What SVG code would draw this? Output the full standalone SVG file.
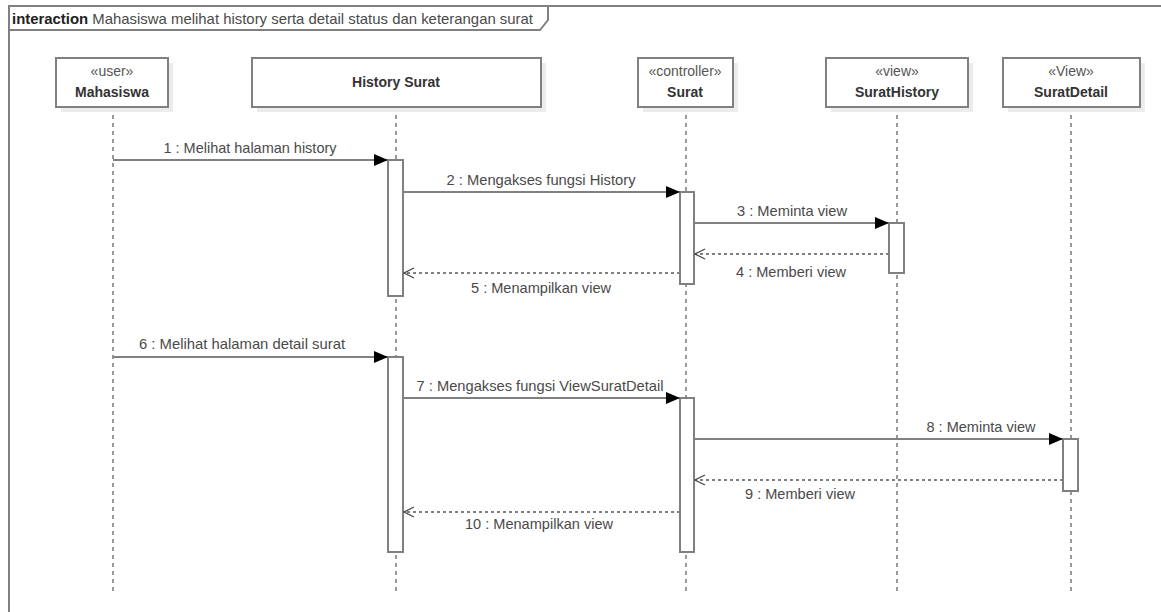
<svg xmlns="http://www.w3.org/2000/svg" width="1161" height="612" viewBox="0 0 1161 612">
  <style>
    text { font-family: "Liberation Sans", Arial, sans-serif; font-size: 15px; fill: #4a4a4a; }
    .name { font-weight: bold; fill: #333; font-size: 14px; }
    .stereo { fill: #555; font-size: 14px; }
    .box { fill: #fff; stroke: #808080; stroke-width: 2; }
    .shadow { fill: #ececec; }
    .life { stroke: #333; stroke-width: 1; stroke-dasharray: 4 4; fill: none; }
    .act { fill: #fff; stroke: #808080; stroke-width: 2; }
    .msg { stroke: #808080; stroke-width: 2; fill: none; }
    .ret { stroke: #808080; stroke-width: 2; fill: none; stroke-dasharray: 3 3; }
    .frame { fill: none; stroke: #808080; stroke-width: 2; }
  </style>
  <defs>
    <marker id="sync" viewBox="0 0 14 12" refX="14" refY="6" markerWidth="14" markerHeight="12" markerUnits="userSpaceOnUse" orient="auto">
      <path d="M0,0 L14,6 L0,12 Z" fill="#000"/>
    </marker>
    <marker id="open" viewBox="0 0 12 12" refX="11" refY="6" markerWidth="12" markerHeight="12" markerUnits="userSpaceOnUse" orient="auto">
      <path d="M1,1 L11,6 L1,11" fill="none" stroke="#444" stroke-width="1.2"/>
    </marker>
  </defs>
  <rect width="1161" height="612" fill="#fff"/>

  <!-- interaction frame -->
  <g id="frame">
    <path class="frame" d="M9,620 L9,6 L1170,6"/>
    <path class="frame" d="M9,30 L540,30 L548,20 L548,6"/>
    <text x="12" y="24" textLength="521" lengthAdjust="spacingAndGlyphs"><tspan font-weight="bold" fill="#222">interaction</tspan> Mahasiswa melihat history serta detail status dan keterangan surat</text>
  </g>

  <!-- lifelines -->
  <g id="lifelines">
    <line class="life" x1="113" y1="107" x2="113" y2="592"/>
    <line class="life" x1="396" y1="107" x2="396" y2="592"/>
    <line class="life" x1="686" y1="107" x2="686" y2="592"/>
    <line class="life" x1="897" y1="107" x2="897" y2="592"/>
    <line class="life" x1="1071" y1="107" x2="1071" y2="592"/>
  </g>

  <g id="mahasiswa">
    <rect class="shadow" x="61" y="63" width="112" height="49"/>
    <rect class="box" x="56" y="58" width="112" height="49"/>
    <text class="stereo" x="112" y="76" text-anchor="middle">«user»</text>
    <text class="name" x="112" y="97" text-anchor="middle">Mahasiswa</text>
  </g>
  <g id="history-surat">
    <rect class="shadow" x="257" y="63" width="289" height="49"/>
    <rect class="box" x="252" y="58" width="289" height="49"/>
    <text class="name" x="396" y="87" text-anchor="middle">History Surat</text>
  </g>
  <g id="surat">
    <rect class="shadow" x="643" y="63" width="95" height="49"/>
    <rect class="box" x="638" y="58" width="95" height="49"/>
    <text class="stereo" x="685" y="76" text-anchor="middle">«controller»</text>
    <text class="name" x="685" y="97" text-anchor="middle">Surat</text>
  </g>
  <g id="surat-history">
    <rect class="shadow" x="831" y="63" width="142" height="49"/>
    <rect class="box" x="826" y="58" width="142" height="49"/>
    <text class="stereo" x="897" y="76" text-anchor="middle">«view»</text>
    <text class="name" x="897" y="97" text-anchor="middle">SuratHistory</text>
  </g>
  <g id="surat-detail">
    <rect class="shadow" x="1008" y="63" width="137" height="49"/>
    <rect class="box" x="1003" y="58" width="137" height="49"/>
    <text class="stereo" x="1071" y="76" text-anchor="middle">«View»</text>
    <text class="name" x="1071" y="97" text-anchor="middle">SuratDetail</text>
  </g>

  <!-- activation bars -->
  <g id="activations">
    <rect class="act" x="388" y="160" width="15" height="136"/>
    <rect class="act" x="680" y="192" width="14" height="92"/>
    <rect class="act" x="889" y="223" width="15" height="50"/>
    <rect class="act" x="388" y="357" width="15" height="195"/>
    <rect class="act" x="680" y="398" width="14" height="154"/>
    <rect class="act" x="1063" y="439" width="15" height="52"/>
  </g>

  <!-- messages -->
  <g id="connectors">
    <line class="msg" x1="113" y1="160" x2="388" y2="160" marker-end="url(#sync)"/>
    <text x="250" y="153" text-anchor="middle" textLength="173" lengthAdjust="spacingAndGlyphs">1 : Melihat halaman history</text>

    <line class="msg" x1="403" y1="192" x2="680" y2="192" marker-end="url(#sync)"/>
    <text x="541" y="185" text-anchor="middle" textLength="189" lengthAdjust="spacingAndGlyphs">2 : Mengakses fungsi History</text>

    <line class="msg" x1="694" y1="223" x2="889" y2="223" marker-end="url(#sync)"/>
    <text x="792" y="216" text-anchor="middle" textLength="110" lengthAdjust="spacingAndGlyphs">3 : Meminta view</text>

    <line class="ret" x1="889" y1="254" x2="695" y2="254" marker-end="url(#open)"/>
    <text x="791" y="277" text-anchor="middle" textLength="110" lengthAdjust="spacingAndGlyphs">4 : Memberi view</text>

    <line class="ret" x1="680" y1="273" x2="404" y2="273" marker-end="url(#open)"/>
    <text x="541" y="293" text-anchor="middle" textLength="140" lengthAdjust="spacingAndGlyphs">5 : Menampilkan view</text>

    <line class="msg" x1="113" y1="357" x2="388" y2="357" marker-end="url(#sync)"/>
    <text x="242" y="349" text-anchor="middle" textLength="206" lengthAdjust="spacingAndGlyphs">6 : Melihat halaman detail surat</text>

    <line class="msg" x1="403" y1="398" x2="680" y2="398" marker-end="url(#sync)"/>
    <text x="540" y="391" text-anchor="middle" textLength="247" lengthAdjust="spacingAndGlyphs">7 : Mengakses fungsi ViewSuratDetail</text>

    <line class="msg" x1="694" y1="439" x2="1063" y2="439" marker-end="url(#sync)"/>
    <text x="981" y="432" text-anchor="middle" textLength="109" lengthAdjust="spacingAndGlyphs">8 : Meminta view</text>

    <line class="ret" x1="1063" y1="480" x2="695" y2="480" marker-end="url(#open)"/>
    <text x="800" y="499" text-anchor="middle" textLength="110" lengthAdjust="spacingAndGlyphs">9 : Memberi view</text>

    <line class="ret" x1="680" y1="512" x2="404" y2="512" marker-end="url(#open)"/>
    <text x="539" y="529" text-anchor="middle" textLength="148" lengthAdjust="spacingAndGlyphs">10 : Menampilkan view</text>
  </g>
</svg>
